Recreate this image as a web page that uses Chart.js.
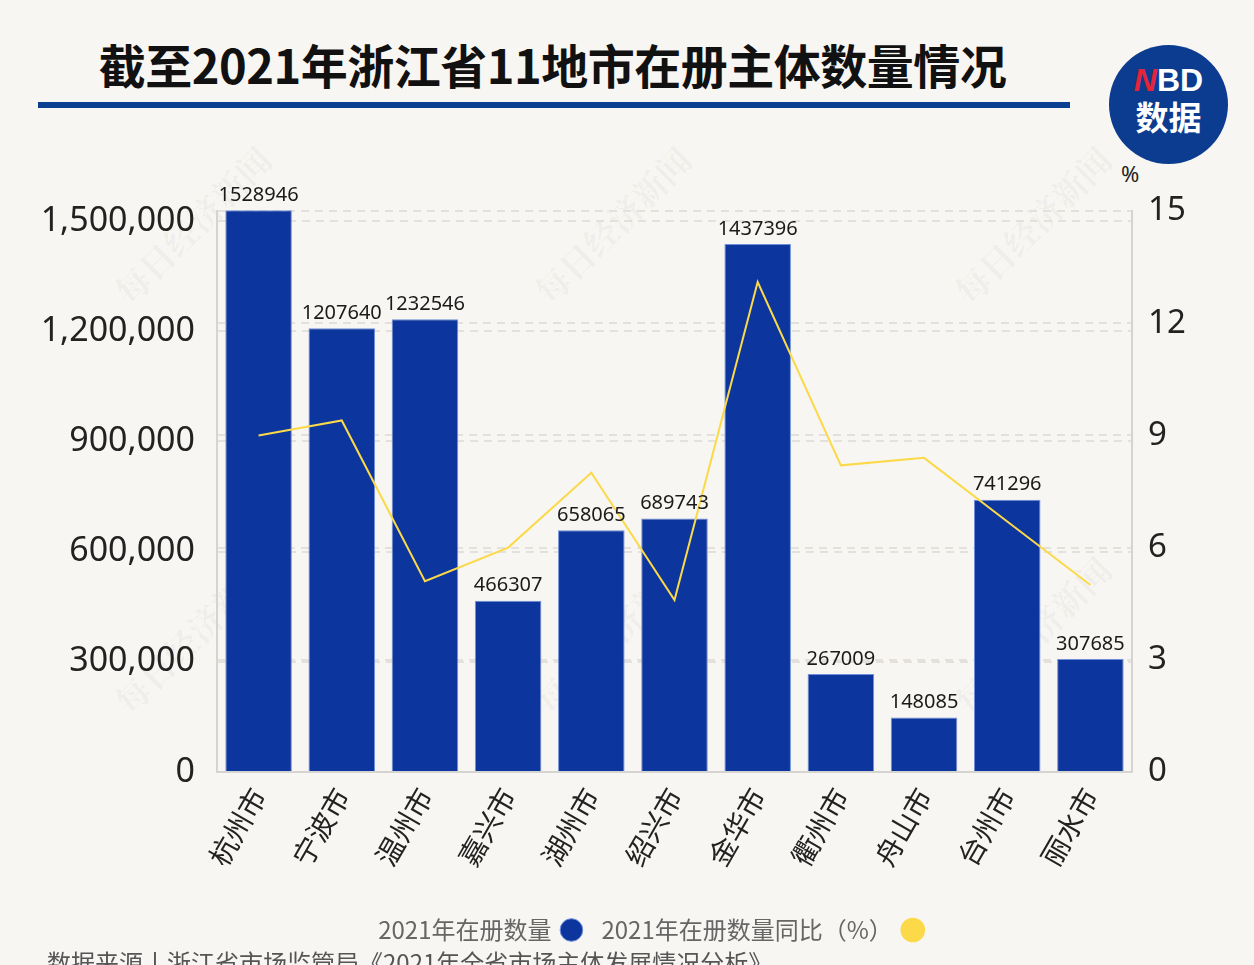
<!DOCTYPE html>
<html lang="zh-CN">
<head>
<meta charset="utf-8">
<title>截至2021年浙江省11地市在册主体数量情况</title>
<script src="https://cdn.jsdelivr.net/npm/chart.js@4.4.1/dist/chart.umd.min.js"></script>
<style>
    html, body {
        margin: 0;
        padding: 0;
        width: 1254px;
        height: 965px;
        overflow: hidden;
        background: #f8f6f2;
        font-family: "Noto Sans CJK SC", "Noto Sans", sans-serif;
    }
    .page { position: relative; width: 1254px; height: 965px; }
    .title {
        position: absolute;
        left: 40px; width: 1025px; top: 29px;
        text-align: center;
        font-size: 47px; font-weight: 700; color: #111;
        letter-spacing: -0.5px;
    }
    .title-line {
        position: absolute;
        left: 38px; top: 102px; width: 1032px; height: 6px;
        background: #0b3f92;
    }
    .logo {
        position: absolute;
        left: 1109px; top: 45px; width: 119px; height: 119px;
        border-radius: 50%;
        background: #0c3c8f;
        color: #fff; text-align: center; font-weight: 700;
    }
    .logo .nbd { position: absolute; left: 0; right: 0; top: 18px; font-family: "Liberation Sans", sans-serif; font-size: 32px; line-height: 34px; }
    .logo .nbd span { color: #e3243b; font-style: italic; }
    .logo .sj { position: absolute; left: 0; right: 0; top: 52px; font-size: 33px; line-height: 38px; }
    .unit {
        position: absolute; left: 1121px; top: 158px;
        font-family: "Noto Sans", sans-serif; font-size: 22px; color: #222;
    }
    .source {
        position: absolute; left: 47px; top: 944px;
        font-size: 24px; color: #555; white-space: nowrap;
    }
    .wm {
        position: absolute; font-family: "Noto Serif CJK SC", serif;
        font-size: 34px; font-weight: 700; color: rgba(0, 0, 0, 0.045);
        transform: rotate(-45deg); white-space: nowrap;
    }
    canvas { position: absolute; left: 0; top: 0; }
</style>
</head>
<body>
<div class="page">
    <div class="wm" style="left:90px;top:200px;">每日经济新闻</div>
    <div class="wm" style="left:510px;top:200px;">每日经济新闻</div>
    <div class="wm" style="left:930px;top:200px;">每日经济新闻</div>
    <div class="wm" style="left:90px;top:610px;">每日经济新闻</div>
    <div class="wm" style="left:510px;top:610px;">每日经济新闻</div>
    <div class="wm" style="left:930px;top:610px;">每日经济新闻</div>

    <div class="title">截至2021年浙江省11地市在册主体数量情况</div>
    <div class="title-line"></div>
    <div class="logo"><div class="nbd"><span>N</span>BD</div><div class="sj">数据</div></div>
    <div class="unit">%</div>

    <canvas id="chart-zhejiang" width="1254" height="965"></canvas>

    <div class="source">数据来源丨浙江省市场监管局《2021年全省市场主体发展情况分析》</div>
</div>

<script>
// data
const cities = ['杭州市', '宁波市', '温州市', '嘉兴市', '湖州市', '绍兴市', '金华市', '衢州市', '舟山市', '台州市', '丽水市'];
const registered2021 = [1528946, 1207640, 1232546, 466307, 658065, 689743, 1437396, 267009, 148085, 741296, 307685];
const growthPct = [9.0, 9.4, 5.1, 6.0, 8.0, 4.6, 13.1, 8.2, 8.4, 6.7, 5.0];
const countTicks = [0, 300000, 600000, 900000, 1200000, 1500000];
const pctTicks = [0, 3, 6, 9, 12, 15];

const seriesNames = ['2021年在册数量', '2021年在册数量同比（%）'];

// value labels above the bars
const barValueLabels = {
    id: 'barValueLabels',
    afterDatasetsDraw(chart) {
        const meta = chart.getDatasetMeta(0);
        const ctx = chart.ctx;
        ctx.save();
        ctx.font = '20px "Noto Sans", sans-serif';
        ctx.fillStyle = '#1a1a1a';
        ctx.textAlign = 'center';
        ctx.textBaseline = 'bottom';
        meta.data.forEach((bar, i) => {
            ctx.fillText(String(registered2021[i]), bar.x, bar.y - 5);
        });
        ctx.restore();
    }
};

// nudge the legend a little to the right, as in the original
const legendShift = {
    id: 'legendShift',
    afterLayout(chart) {
        if (chart.legend) chart.legend.left = 15;
    }
};

const gridStyle = {
    color: '#e4e1dc',
    lineWidth: 2,
    drawTicks: false
};

new Chart(document.getElementById('chart-zhejiang'), {
    type: 'bar',
    data: {
        labels: cities,
        datasets: [
            {
                type: 'bar',
                label: seriesNames[0],
                data: registered2021,
                yAxisID: 'y',
                backgroundColor: '#0d359e',
                borderColor: '#6f8fd8',
                borderWidth: 1,
                barPercentage: 0.8,
                categoryPercentage: 1.0,
                clip: false,
                order: 2
            },
            {
                type: 'line',
                label: seriesNames[1],
                data: growthPct,
                yAxisID: 'y1',
                borderColor: '#fbd948',
                backgroundColor: '#fbd948',
                borderWidth: 2,
                pointRadius: 0,
                tension: 0,
                order: 1
            }
        ]
    },
    options: {
        responsive: false,
        animation: false,
        layout: {
            padding: { top: 211, left: 0, right: 0, bottom: 13 }
        },
        plugins: {
            legend: {
                position: 'bottom',
                rtl: true,
                textDirection: 'ltr',
                labels: {
                    color: '#666',
                    usePointStyle: true,
                    pointStyle: 'circle',
                    boxWidth: 16,
                    boxHeight: 16,
                    padding: 22,
                    font: { family: '"Noto Sans CJK SC", sans-serif', size: 24 }
                }
            },
            tooltip: { enabled: false }
        },
        scales: {
            x: {
                grid: { display: false, drawTicks: false },
                border: { display: true, color: '#d6d4d0', width: 2 },
                ticks: {
                    color: '#222',
                    maxRotation: 60,
                    minRotation: 60,
                    padding: 10,
                    font: { family: '"Noto Sans CJK SC", sans-serif', size: 28 }
                },
                afterFit(scale) { scale.height = 124; }
            },
            y: {
                position: 'left',
                min: 0,
                max: 1527000,
                grid: { ...gridStyle },
                border: { display: true, color: '#d6d4d0', width: 2, dash: [8, 6] },
                ticks: {
                    color: '#222',
                    padding: 22,
                    font: { family: '"Noto Sans", sans-serif', size: 34 },
                    callback: (v) => v.toLocaleString('en-US')
                },
                afterBuildTicks(scale) {
                    scale.ticks = countTicks.map(v => ({ value: v }));
                },
                afterFit(scale) { scale.width = 217; }
            },
            y1: {
                position: 'right',
                min: 0,
                max: 15,
                grid: { ...gridStyle },
                border: { display: true, color: '#d6d4d0', width: 2, dash: [8, 6] },
                ticks: {
                    color: '#222',
                    padding: 16,
                    font: { family: '"Noto Sans", sans-serif', size: 33 }
                },
                afterBuildTicks(scale) {
                    scale.ticks = pctTicks.map(v => ({ value: v }));
                },
                afterFit(scale) { scale.width = 122; }
            }
        }
    },
    plugins: [barValueLabels, legendShift]
});
</script>
</body>
</html>
